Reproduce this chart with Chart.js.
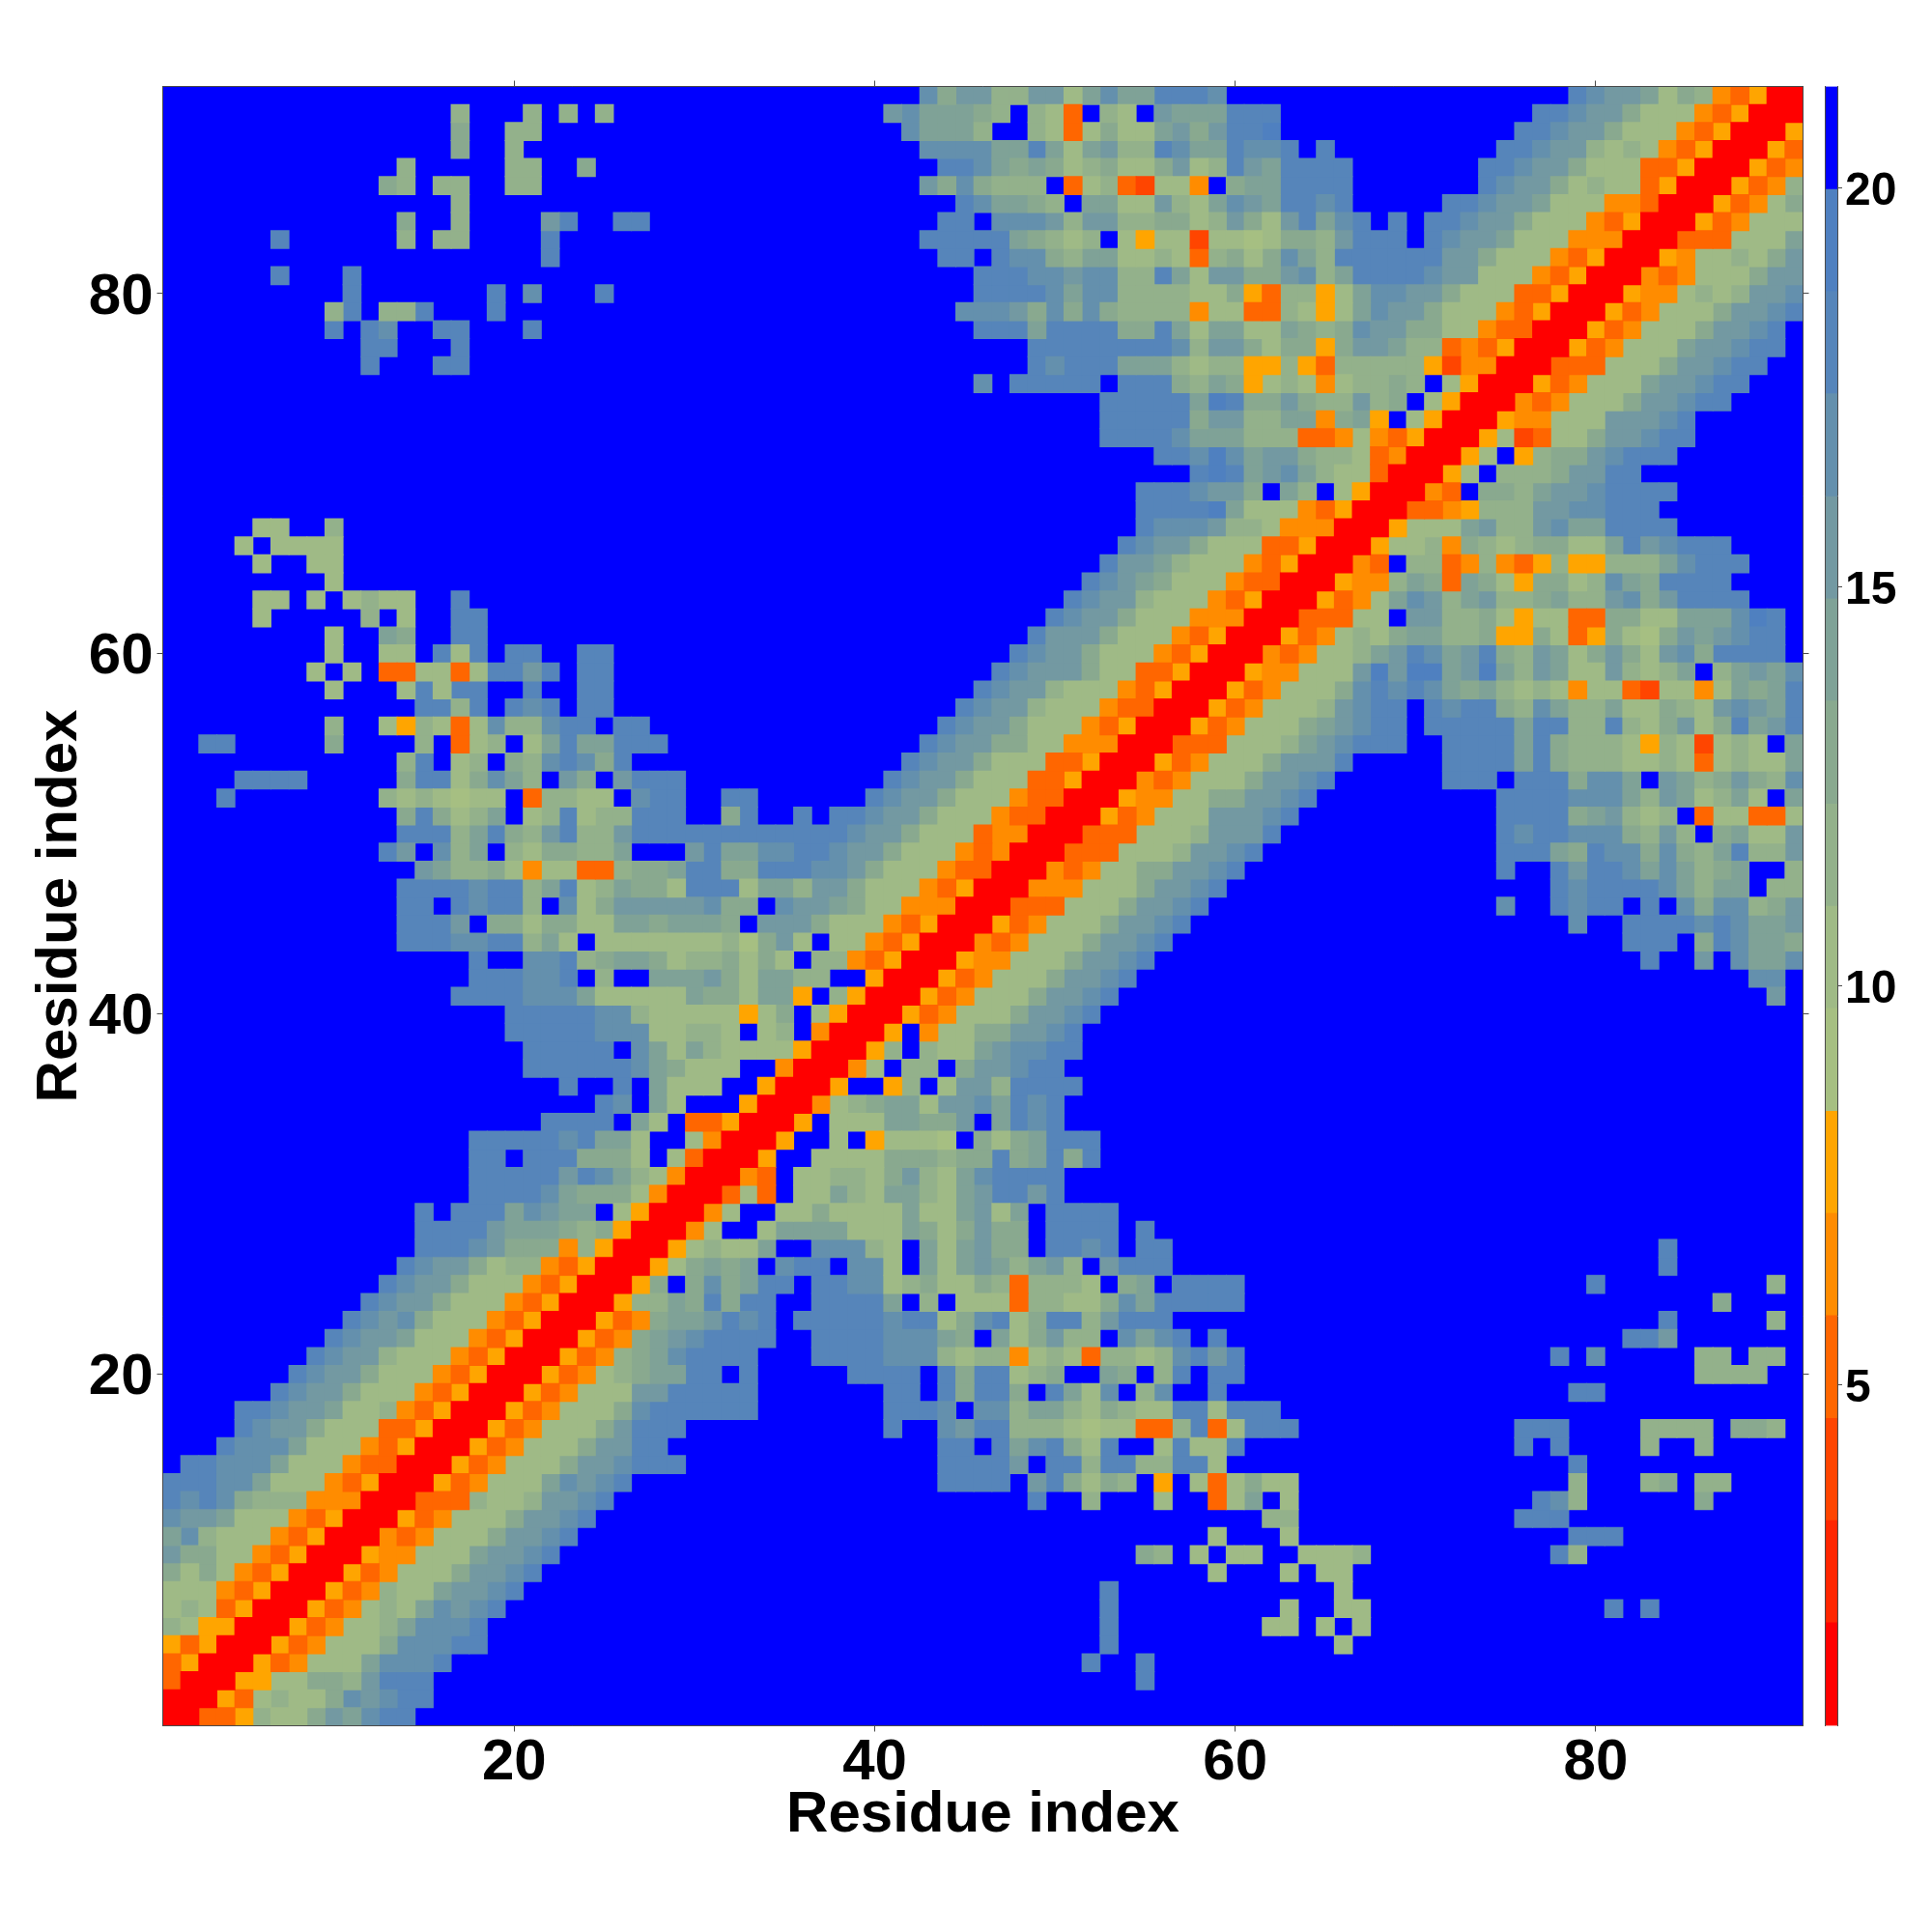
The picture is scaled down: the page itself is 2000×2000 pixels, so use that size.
<!DOCTYPE html>
<html>
<head>
<meta charset="utf-8">
<title>Residue distance map</title>
<script src="https://cdn.jsdelivr.net/npm/chart.js@4/dist/chart.umd.min.js"></script>
<style>
  html, body { margin: 0; padding: 0; background: #fff; }
  #wrap { position: relative; width: 2000px; height: 2000px; }
  canvas { position: absolute; top: 0; }
  #mapChart { left: 0; }
  #barChart { left: 1870px; }
</style>
</head>
<body>
<div id="wrap">
  <canvas id="mapChart" width="2000" height="2000"></canvas>
  <canvas id="barChart" width="130" height="2000"></canvas>
</div>
<script>
// colour bins of the map, nearest (0) to farthest (f)
const levelColors = ['#ff0000', '#ff2600', '#ff4500', '#ff6600', '#ff8c00', '#ffa500',
  '#a6bf82', '#9fba86', '#93b18b', '#89a98f', '#7fa297', '#7399a2', '#6490ad', '#5685ba', '#4f80c0', '#0000ff'];
const levelEdges = [0.73, 2.02, 3.30, 4.58, 5.87, 7.15, 8.43, 9.72, 11.0, 12.28, 13.57, 14.85, 16.13, 17.42, 18.70, 19.98, 21.27];

const residueTicks = [20, 40, 60, 80];
const barTicks = [5, 10, 15, 20];
const residueCount = 91;

// Residue 91 first. Only the half with column <= row is kept,
// a distance map is symmetric. "col:bins" means hex bins starting at that column,
// anything not listed is the far bin (f).
const mapRows = [
  '43:c9bb88bb7acaadddc 79:dcbba79843500',
  '17:8 21:8 23:8 25:8 41:bcaaa98f873f87fbaaaddd 77:ddcbb977743500',
  '17:9 20:88 42:caaa8ff8737977ab9bdde 76:ddcbb977743500',
  '17:9 20:8 43:ccccaada7ab88dcaadccdfd 75:ddcbb878743500',
  '14:8 20:88 24:9 44:ddca9a9789779b78dbadddd 74:ddcbb977733500',
  '13:98 16:88 20:88 43:b9c9888f37832774f9aadddd 74:dcbb978773500',
  '17:8 45:dcaa98faa77b87acbaddcd 72:ddcbba77744300',
  '14:9 17:8 22:bd 26:dd 44:ddfcccb8bb889978b97bdacdfd 71:ddcbb977743500',
  '7:d 14:8 16:88 22:d 43:ddddda9878f757727767998bdddfdcbba77744400',
  '22:d 44:ddfdcc98aa778738979ca8ddddddbb977743500',
  '7:d 11:d 46:dddccbcc88da7bb99bc8addddcbb77743500',
  '11:d 19:d 21:c 25:d 46:ddddcacc8888779538857accbb977733500',
  '10:8d 13:88d 19:d 45:cccb9c9c98888477338757acbb977743500',
  '10:d 12:dc 16:dd 21:d 46:dddadddd99da7aa77a989cbb997743300',
  '12:dd 17:d 49:ddddddddc8bb979959bba88343500',
  '12:d 16:dd 49:dcdddaaa87885585388888524400',
  '46:cfdddddfddd98a95787478898f7500',
  '53:dddddaed99b988b89f7500',
  '53:ddddd9bb88aa49a5f7500',
  '53:ddddcaaa888334743500',
  '56:ddcecabb98873400',
  '58:dedabca877300',
  '55:dddcbb9fa8f7500',
  '55:ddddea77743500',
  '6:77 10:8 55:dcccb88744400',
  '5:7f7777 54:dcbb977733500',
  '6:7 9:77 53:dbba877743500',
  '10:7 52:dcba977743300',
  '6:77 9:7 11:7877 17:d 51:dcbb877743500',
  '6:7 12:8f7 17:dd 50:dcbb977744400',
  '10:7 13:a9 17:dd 49:dbbb977743500',
  '10:7 13:77 16:d7d 20:dd 24:dd 48:dcbb977743500',
  '9:7f7 13:337737ddbd 24:dd 47:dcbbb97733500',
  '10:7 14:7d7dd 21:d 24:dd 46:dcbb877743500',
  '15:dd8d 20:dcd 24:dd 45:dcbb877743300',
  '10:8 13:758737c88cddfdd 44:dcbb977743500',
  '3:dd 10:9 15:8f378f7adaaddd 43:dcbb997744400',
  '14:8df78f98cdc9d 42:dcbb977733500',
  '5:dddd 14:9dd79ca8fb9fbddd 41:dcbb977733500',
  '4:d 13:8787677f38877fcdd 32:dd 40:dcbb977743300',
  '14:9d978af78d788ddd 32:9d 36:d 38:ddcbb977743300',
  '14:ddd8ad98bd88bddddddddddddcbb977734400',
  '13:dbfc8af879988afffbdaaccddcbb977743400',
  '15:ba889747733899add99dddccb977743300',
  '14:ddddcdd8ad78a997ddd7aa8bb977743500',
  '14:ddfdcdd8fc79bbbbbc99fcbba97744400',
  '14:dddbf9979977aa9aaa9fbbb977743500',
  '14:dddccdd8a7f7777777869b7f7743500',
  '18:dffccd89aa97889797f8843500',
  '18:dddccdf8ffaaab97aa88ff500',
  '17:ddddccca77777a997aa5f8500',
  '20:dddddcc877777579f7500',
  '20:dddddccc77887f78f400',
  '21:dddddfca7a87777500',
  '21:ddddddca9777ff400',
  '23:d 26:d 28:a777ff500',
  '25:dc 28:a7 33:500',
  '22:dddd 27:a7 30:33500',
  '18:dddddcdaa7ff7400',
  '18:ddfddd9997f7300',
  '18:dddddbdca87400',
  '18:ddddca9997400',
  '15:dfdddacbaaf7500',
  '15:ddddbaaa989500',
  '15:dddcb99948500',
  '14:dcbb978843500',
  '13:dcbb977743500',
  '12:dcbb977743500',
  '11:dcbc977743500',
  '10:dcbba77743500',
  '9:dcbb877743500',
  '8:dcbb977743500',
  '7:dcbb977743500',
  '5:ddcbba77843500',
  '5:dcbb977733500',
  '4:dccca77743500',
  '2:ddccca77743300',
  '1:dddcca77743500',
  '1:dcdc988844400',
  '1:cbba77743500',
  '1:ac877743500',
  '1:b997743500',
  '1:979743500',
  '1:77743500',
  '1:7873500',
  '1:875500',
  '1:53500',
  '1:3500',
  '1:300',
  '1:00',
  '1:0'
];

// plot box in page pixels, measured on the reference
const plotLeft = 168.5, plotRight = 2000 - 1866.5, plotTop = 89.5, plotBottom = 2000 - 1786.5;
const tickLen = 6;
const frameColor = '#4a4a4a';
const fontName = '"Liberation Sans", Arial, sans-serif';

function buildMatrix() {
  const m = [];
  for (let r = 0; r <= residueCount; r++) m.push(new Array(residueCount + 1).fill(15));
  mapRows.forEach((line, i) => {
    const row = residueCount - i;
    line.split(' ').forEach(seg => {
      const [start, bins] = seg.split(':');
      [...bins].forEach((b, k) => {
        const col = Number(start) + k;
        const level = parseInt(b, 16);
        m[row][col] = level;
        m[col][row] = level;
      });
    });
  });
  return m;
}

const matrix = buildMatrix();

// one floating bar per cell, grouped by colour bin
const mapDatasets = levelColors.map((color, level) => {
  const data = [];
  for (let row = 1; row <= residueCount; row++) {
    for (let col = 1; col <= residueCount; col++) {
      if (matrix[row][col] === level) data.push({ x: col, y: [row - 0.5, row + 0.5] });
    }
  }
  return { label: 'bin ' + level, data, backgroundColor: color, borderWidth: 0, grouped: false,
    barPercentage: 1, categoryPercentage: 1, inflateAmount: 0.5 };
});

function setTicks(values) {
  return scale => { scale.ticks = values.map(v => ({ value: v })); };
}

function residueScale(position, withLabels, size) {
  const isX = position === 'bottom' || position === 'top';
  const opts = {
    type: 'linear',
    position,
    min: 0.5,
    max: residueCount + 0.5,
    offset: false,
    afterBuildTicks: setTicks(residueTicks),
    afterFit: s => { if (isX) s.height = size; else s.width = size; },
    border: { display: true, color: frameColor, width: 1, z: 2 },
    grid: { display: true, offset: false, drawOnChartArea: false, drawTicks: true, tickLength: tickLen, tickWidth: 1, tickColor: frameColor },
    ticks: {
      display: withLabels,
      autoSkip: false,
      maxRotation: 0,
      padding: isX ? -3 : 4,
      labelOffset: isX ? 0 : 4,
      color: '#000',
      font: { family: fontName, size: 60, weight: 'bold' },
      callback: v => String(v)
    }
  };
  if (withLabels) {
    opts.title = {
      display: true,
      text: 'Residue index',
      color: '#000',
      font: { family: fontName, size: 60, weight: 'bold' },
      padding: isX ? { bottom: 85 } : { top: 26 }
    };
  }
  return opts;
}

// blue backdrop so the map never shows white between cells
const backdrop = {
  id: 'backdrop',
  beforeDatasetsDraw(chart) {
    const { ctx, chartArea: a } = chart;
    ctx.save();
    ctx.fillStyle = levelColors[15];
    ctx.fillRect(a.left, a.top, a.right - a.left, a.bottom - a.top);
    ctx.restore();
  }
};

new Chart(document.getElementById('mapChart').getContext('2d'), {
  type: 'bar',
  data: { datasets: mapDatasets },
  plugins: [backdrop],
  options: {
    responsive: false,
    animation: false,
    devicePixelRatio: 1,
    parsing: { xAxisKey: 'x', yAxisKey: 'y' },
    layout: { padding: { left: 0, top: plotTop - tickLen, right: plotRight - tickLen, bottom: 0 } },
    plugins: { legend: { display: false }, tooltip: { enabled: false } },
    scales: {
      x: residueScale('bottom', true, plotBottom),
      y: residueScale('left', true, plotLeft),
      x2: residueScale('top', false, tickLen),
      y2: residueScale('right', false, tickLen)
    }
  }
});

// colour bar
const barDatasets = levelColors.map((color, level) => ({
  label: 'bin ' + level,
  data: [[levelEdges[level], levelEdges[level + 1]]],
  backgroundColor: color,
  borderWidth: 0,
  grouped: false,
  barPercentage: 1,
  categoryPercentage: 1
}));

new Chart(document.getElementById('barChart').getContext('2d'), {
  type: 'bar',
  data: { labels: [''], datasets: barDatasets },
  options: {
    responsive: false,
    animation: false,
    devicePixelRatio: 1,
    layout: { padding: { left: 19, top: plotTop, right: 0, bottom: plotBottom } },
    plugins: { legend: { display: false }, tooltip: { enabled: false } },
    scales: {
      x: { display: false },
      y: {
        type: 'linear',
        position: 'right',
        min: levelEdges[0],
        max: levelEdges[levelEdges.length - 1],
        afterBuildTicks: setTicks(barTicks),
        afterFit: s => { s.width = 98; },
        border: { display: true, color: frameColor, width: 1, z: 2 },
        grid: { display: true, offset: false, drawOnChartArea: false, tickLength: 5, tickWidth: 1, tickColor: frameColor },
        ticks: {
          padding: 3,
          labelOffset: 4,
          color: '#000',
          font: { family: fontName, size: 48, weight: 'bold' },
          callback: v => String(v)
        }
      },
      y2: {
        type: 'linear',
        position: 'left',
        min: levelEdges[0],
        max: levelEdges[levelEdges.length - 1],
        afterFit: s => { s.width = 0; },
        border: { display: true, color: frameColor, width: 1, z: 2 },
        grid: { display: false },
        ticks: { display: false }
      }
    }
  }
});
</script>
</body>
</html>
